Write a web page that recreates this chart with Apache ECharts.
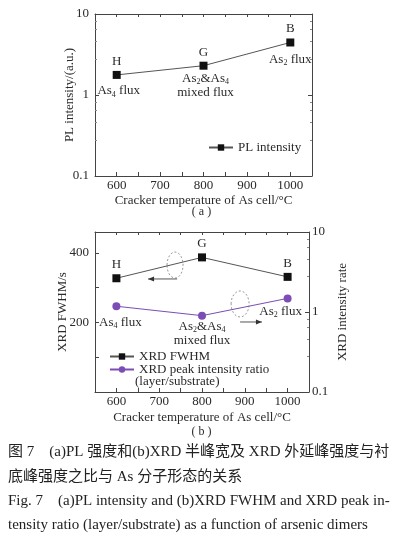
<!DOCTYPE html>
<html><head><meta charset="utf-8">
<script src="https://cdn.jsdelivr.net/npm/echarts@6/dist/echarts.min.js"></script>
<style>html,body{margin:0;padding:0;background:#fff;} #c{width:403px;height:540px;}</style>
</head><body><div id="c"></div>
<script>
// ---- data ----
const temps = [600, 800, 1000];
const plIntensity = [1.77, 2.3, 4.45];
const xrdFwhm = [327, 387, 331];
const xrdRatio = [1.18, 0.90, 1.48];
const sampleNames = ['H', 'G', 'B'];
const fluxLabels = [
  '{n|As}{s|4}{n| flux}',
  '{n|As}{s|2}{n|&As}{s|4}\n{n|mixed flux}',
  '{n|As}{s|2}{n| flux}'
];
const xTickLabels = [600, 700, 800, 900, 1000];
const logTickLabels = ['0.1', '1', '10'];
const fwhmTickLabels = [200, 400];
const captionLines = [
  '图 7    (a)PL 强度和(b)XRD 半峰宽及 XRD 外延峰强度与衬',
  '底峰强度之比与 As 分子形态的关系',
  'Fig. 7    (a)PL intensity and (b)XRD FWHM and XRD peak in-',
  'tensity ratio (layer/substrate) as a function of arsenic dimers'
];

const SERIF = '"Liberation Serif","DejaVu Serif",serif';
const AX = '#444';
const TXT = '#2a2a2a';
const PURPLE = '#7b4db5';
const rich = {
  n: {fontFamily: SERIF, fontSize: 13, color: TXT, lineHeight: 14},
  s: {fontFamily: SERIF, fontSize: 8, color: TXT, lineHeight: 14, padding: [7, 0, 0, 0]}
};

const chart = echarts.init(document.getElementById('c'), null, {renderer: 'canvas'});

function xAxisBase(grid, main, gap) {
  return {
    type: 'value', gridIndex: grid, min: 550, max: 1050, interval: 50,
    position: main ? 'bottom' : 'top',
    axisLine: {show: true, lineStyle: {color: AX, width: 1}},
    axisTick: {show: true, inside: true, length: main ? 4 : 3, lineStyle: {color: AX}},
    axisLabel: {show: main, color: TXT, fontFamily: SERIF, fontSize: 13, margin: 3,
      formatter: v => xTickLabels.indexOf(v) >= 0 ? String(v) : ''},
    splitLine: {show: false},
    name: main ? 'Cracker temperature of As cell/°C' : '',
    nameLocation: 'middle', nameGap: gap || 20, nameMoveOverlap: false,
    nameTextStyle: {color: TXT, fontFamily: SERIF, fontSize: 13}
  };
}
function logAxis(grid, pos, labels, name, gap) {
  return {
    type: 'log', logBase: 10, gridIndex: grid, min: 0.1, max: 10, position: pos,
    axisLine: {show: true, lineStyle: {color: AX, width: 1}},
    axisTick: {show: true, inside: true, length: 4, lineStyle: {color: AX}},
    minorTick: {show: true, splitNumber: 5, length: 2, lineStyle: {color: '#888'}},
    axisLabel: {show: labels, color: TXT, fontFamily: SERIF, fontSize: 13, margin: pos === 'right' ? 3 : 6,
      formatter: v => { const s = (Math.round(v * 10) / 10).toString(); return logTickLabels.indexOf(s) >= 0 ? s : ''; }},
    splitLine: {show: false},
    name: name || '', nameLocation: 'middle', nameGap: gap || 20, nameMoveOverlap: false,
    nameTextStyle: {color: TXT, fontFamily: SERIF, fontSize: 13}
  };
}

const option = {
  animation: false,
  backgroundColor: '#fff',
  grid: [
    {left: 95, right: 91, top: 14, bottom: 364},
    {left: 95, right: 94, top: 232, bottom: 148}
  ],
  xAxis: [xAxisBase(0, true, 18), xAxisBase(0, false), xAxisBase(1, true, 19), xAxisBase(1, false)],
  yAxis: [
    logAxis(0, 'left', true, 'PL intensity/(a.u.)', 19),
    logAxis(0, 'right', false),
    {
      type: 'value', gridIndex: 1, min: 0, max: 460, interval: 100, position: 'left',
      axisLine: {show: true, lineStyle: {color: AX, width: 1}},
      axisTick: {show: true, inside: true, length: 4, lineStyle: {color: AX}},
      axisLabel: {color: TXT, fontFamily: SERIF, fontSize: 13, margin: 6,
        formatter: v => fwhmTickLabels.indexOf(v) >= 0 ? String(v) : ''},
      splitLine: {show: false},
      name: 'XRD FWHM/s', nameLocation: 'middle', nameGap: 26, nameMoveOverlap: false,
      nameTextStyle: {color: TXT, fontFamily: SERIF, fontSize: 13}
    },
    logAxis(1, 'right', true, 'XRD intensity rate', 27)
  ],
  legend: [
    {left: 203, top: 136, itemWidth: 24, itemHeight: 8, itemGap: 2, orient: 'vertical',
      data: ['PL intensity'], textStyle: {fontFamily: SERIF, fontSize: 13, color: TXT}},
    {left: 104, top: 345, itemWidth: 24, itemHeight: 8, itemGap: 0, orient: 'vertical',
      data: ['XRD FWHM', 'XRD peak intensity ratio'],
      textStyle: {fontFamily: SERIF, fontSize: 13, color: TXT}}
  ],
  series: [
    {
      name: 'PL intensity', type: 'line', xAxisIndex: 0, yAxisIndex: 0,
      data: temps.map((t, i) => [t, plIntensity[i]]),
      symbol: 'rect', symbolSize: 8, itemStyle: {color: '#111'},
      lineStyle: {color: '#555', width: 1},
      label: {show: true, position: 'top', distance: 3, fontFamily: SERIF, fontSize: 13, color: TXT,
        formatter: p => sampleNames[p.dataIndex]}
    },
    {
      name: 'pl-flux', type: 'scatter', xAxisIndex: 0, yAxisIndex: 0, symbolSize: 1,
      itemStyle: {color: 'rgba(0,0,0,0)', opacity: 1}, silent: true,
      data: temps.map((t, i) => [t, plIntensity[i]]),
      label: {show: true, position: 'inside', rich: rich, align: 'center',
        formatter: p => fluxLabels[p.dataIndex]},
      labelLayout: p => ({dx: [2, 2, 0][p.dataIndex], dy: [16, 20, 17][p.dataIndex]})
    },
    {
      name: 'XRD FWHM', type: 'line', xAxisIndex: 2, yAxisIndex: 2,
      data: temps.map((t, i) => [t, xrdFwhm[i]]),
      symbol: 'rect', symbolSize: 8, itemStyle: {color: '#111'},
      lineStyle: {color: '#555', width: 1},
      label: {show: true, position: 'top', distance: 3, fontFamily: SERIF, fontSize: 13, color: TXT,
        formatter: p => sampleNames[p.dataIndex]}
    },
    {
      name: 'XRD peak intensity ratio', type: 'line', xAxisIndex: 2, yAxisIndex: 3,
      data: temps.map((t, i) => [t, xrdRatio[i]]),
      symbol: 'circle', symbolSize: 8, itemStyle: {color: PURPLE},
      lineStyle: {color: PURPLE, width: 1},
      label: {show: true, position: 'inside', rich: rich, align: 'center',
        formatter: p => fluxLabels[p.dataIndex]},
      labelLayout: p => ({dx: [4, 0, -7][p.dataIndex], dy: [16, 18, 13][p.dataIndex]})
    }
  ]
};
chart.setOption(option);

// annotations: dashed ellipses with arrows (placed in data coordinates)
const annot = [
  {ell: [737, 365], axis: {xAxisIndex: 2, yAxisIndex: 2}, arr: [[742, 325], [674, 325]], r: [8, 13]},
  {ell: [889, 1.26], axis: {xAxisIndex: 2, yAxisIndex: 3}, arr: [[889, 0.75], [940, 0.75]], r: [9, 13]}
];
const g = [];
annot.forEach(a => {
  const c = chart.convertToPixel(a.axis, a.ell);
  const p0 = chart.convertToPixel(a.axis, a.arr[0]);
  const p1 = chart.convertToPixel(a.axis, a.arr[1]);
  g.push({type: 'ellipse', shape: {cx: c[0], cy: c[1], rx: a.r[0], ry: a.r[1]},
    style: {fill: 'none', stroke: '#999', lineWidth: 1, lineDash: [2, 2]}});
  g.push({type: 'line', shape: {x1: p0[0], y1: p0[1], x2: p1[0], y2: p1[1]},
    style: {stroke: '#555', lineWidth: 1}});
  const d = p1[0] > p0[0] ? 1 : -1;
  g.push({type: 'polygon', shape: {points: [[p1[0], p1[1]], [p1[0] - d * 6, p1[1] - 2.5], [p1[0] - d * 6, p1[1] + 2.5]]},
    style: {fill: '#333'}});
});
g.push({type: 'text', left: 135, top: 375, style: {text: '(layer/substrate)', font: '13px ' + SERIF, fill: TXT}});
g.push({type: 'text', left: 'center', top: 206, style: {text: '( a )', font: '12px ' + SERIF, fill: TXT}});
g.push({type: 'text', left: 'center', top: 426, style: {text: '( b )', font: '12px ' + SERIF, fill: TXT}});
const capTops = [445, 470, 494, 518];
captionLines.forEach((t, i) => {
  g.push({type: 'text', left: 8, top: capTops[i],
    style: {text: t, font: '15px "Liberation Serif","Noto Sans CJK SC",serif', fill: '#222'}});
});
chart.setOption({graphic: g});
</script>
</body></html>
